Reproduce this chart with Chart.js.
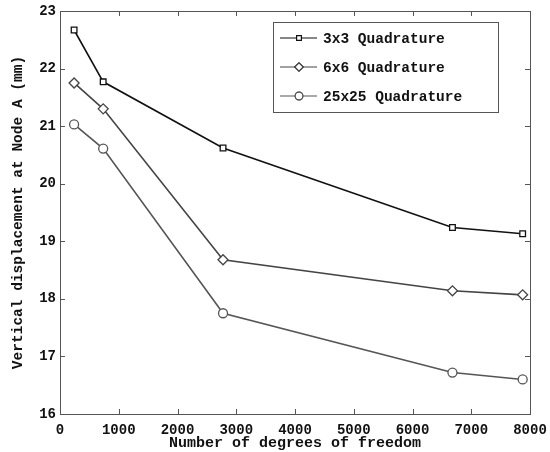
<!DOCTYPE html>
<html lang="en">
<head>
  <meta charset="UTF-8">
  <title>Vertical displacement vs DOF</title>
  <script src="https://cdn.jsdelivr.net/npm/chart.js"></script>
  <style>
    body { margin: 0; background: #fff; }
  </style>
</head>
<body>
  <canvas id="dofChart" width="550" height="452"></canvas>

  <script>
    // values
    const dof = [240, 735, 2775, 6680, 7875];
    const quad3 = [22.67, 21.77, 20.62, 19.24, 19.13];
    const quad6 = [21.75, 21.30, 18.68, 18.14, 18.07];
    const quad25 = [21.03, 20.61, 17.75, 16.72, 16.60];
    const seriesNames = ["3x3 Quadrature", "6x6 Quadrature", "25x25 Quadrature"];
    const xTicks = [0, 1000, 2000, 3000, 4000, 5000, 6000, 7000, 8000];
    const yTicks = [16, 17, 18, 19, 20, 21, 22, 23];

    const monoBold = size => ({ family: "'Liberation Mono', 'DejaVu Sans Mono', monospace", size, weight: 'bold' });

    const toPoints = ys => ys.map((y, i) => ({ x: dof[i], y }));

    const styles = [
      { color: '#111', point: 'rect', radius: 4 },
      { color: '#444', point: 'rectRot', radius: 5 },
      { color: '#555', point: 'circle', radius: 4.5 }
    ];

    const datasets = [quad3, quad6, quad25].map((vals, i) => ({
      label: seriesNames[i],
      data: toPoints(vals),
      borderColor: styles[i].color,
      borderWidth: 1.6,
      pointStyle: styles[i].point,
      pointRadius: styles[i].radius,
      pointBorderColor: styles[i].color,
      pointBorderWidth: 1.3,
      pointBackgroundColor: '#fff',
      tension: 0
    }));

    // box around the plot with inward ticks on all four sides
    const frame = {
      id: 'frame',
      afterDraw(chart) {
        const { ctx, chartArea: a, scales } = chart;
        ctx.save();
        ctx.strokeStyle = '#555';
        ctx.lineWidth = 1;
        ctx.strokeRect(a.left + 0.5, a.top + 0.5, a.right - a.left, a.bottom - a.top);
        ctx.beginPath();
        xTicks.forEach(v => {
          const px = Math.round(scales.x.getPixelForValue(v)) + 0.5;
          ctx.moveTo(px, a.bottom); ctx.lineTo(px, a.bottom - 5);
          ctx.moveTo(px, a.top); ctx.lineTo(px, a.top + 5);
        });
        yTicks.forEach(v => {
          const py = Math.round(scales.y.getPixelForValue(v)) + 0.5;
          ctx.moveTo(a.left, py); ctx.lineTo(a.left + 5, py);
          ctx.moveTo(a.right, py); ctx.lineTo(a.right - 5, py);
        });
        ctx.stroke();
        ctx.restore();
      }
    };

    // matlab-like legend: line sample with marker in the middle
    const boxLegend = {
      id: 'boxLegend',
      afterDraw(chart) {
        const { ctx, chartArea: a } = chart;
        const left = a.left + 213, top = a.top + 11, w = 225, h = 90;
        ctx.save();
        ctx.fillStyle = '#fff';
        ctx.fillRect(left, top, w, h);
        ctx.strokeStyle = '#555';
        ctx.lineWidth = 1;
        ctx.strokeRect(left + 0.5, top + 0.5, w, h);
        ctx.font = "bold 14.5px 'Liberation Mono', monospace";
        ctx.textBaseline = 'middle';
        chart.data.datasets.forEach((ds, i) => {
          const y = top + 16 + i * 29;
          ctx.strokeStyle = ds.borderColor;
          ctx.lineWidth = 1.2;
          ctx.beginPath();
          ctx.moveTo(left + 7, y); ctx.lineTo(left + 44, y);
          ctx.stroke();
          Chart.helpers.drawPoint(ctx, {
            pointStyle: ds.pointStyle,
            radius: ds.pointRadius * 0.85,
            borderWidth: 1.2
          }, left + 26, y);
          ctx.fillStyle = '#fff';
          ctx.fill();
          ctx.stroke();
          ctx.fillStyle = '#111';
          ctx.fillText(ds.label, left + 50, y + 1);
        });
        ctx.restore();
      }
    };

    new Chart(document.getElementById('dofChart'), {
      type: 'line',
      data: { datasets },
      options: {
        responsive: false,
        animation: false,
        layout: { padding: { top: 11, right: 20, left: 0, bottom: 0 } },
        plugins: { legend: { display: false }, tooltip: { enabled: false } },
        scales: {
          x: {
            type: 'linear',
            min: 0, max: 8000,
            afterFit: s => { s.height = 38; s.paddingLeft = 0; s.paddingRight = 0; },
            afterBuildTicks: s => { s.ticks = xTicks.map(v => ({ value: v })); },
            grid: { display: false, drawTicks: false },
            border: { display: false },
            ticks: { color: '#111', font: monoBold(14), padding: 8, maxRotation: 0, callback: v => String(v) },
            title: { display: true, text: 'Number of degrees of freedom', color: '#111', font: monoBold(15), padding: { top: 0, bottom: 0 } }
          },
          y: {
            min: 16, max: 23,
            afterFit: s => { s.width = 60; s.paddingTop = 0; s.paddingBottom = 0; },
            afterBuildTicks: s => { s.ticks = yTicks.map(v => ({ value: v })); },
            grid: { display: false, drawTicks: false },
            border: { display: false },
            ticks: { color: '#111', font: monoBold(14), padding: 4 },
            title: { display: true, text: 'Vertical displacement at Node A (mm)', color: '#111', font: monoBold(14.5), padding: { top: 10, bottom: 0 } }
          }
        }
      },
      plugins: [frame, boxLegend]
    });
  </script>
</body>
</html>
